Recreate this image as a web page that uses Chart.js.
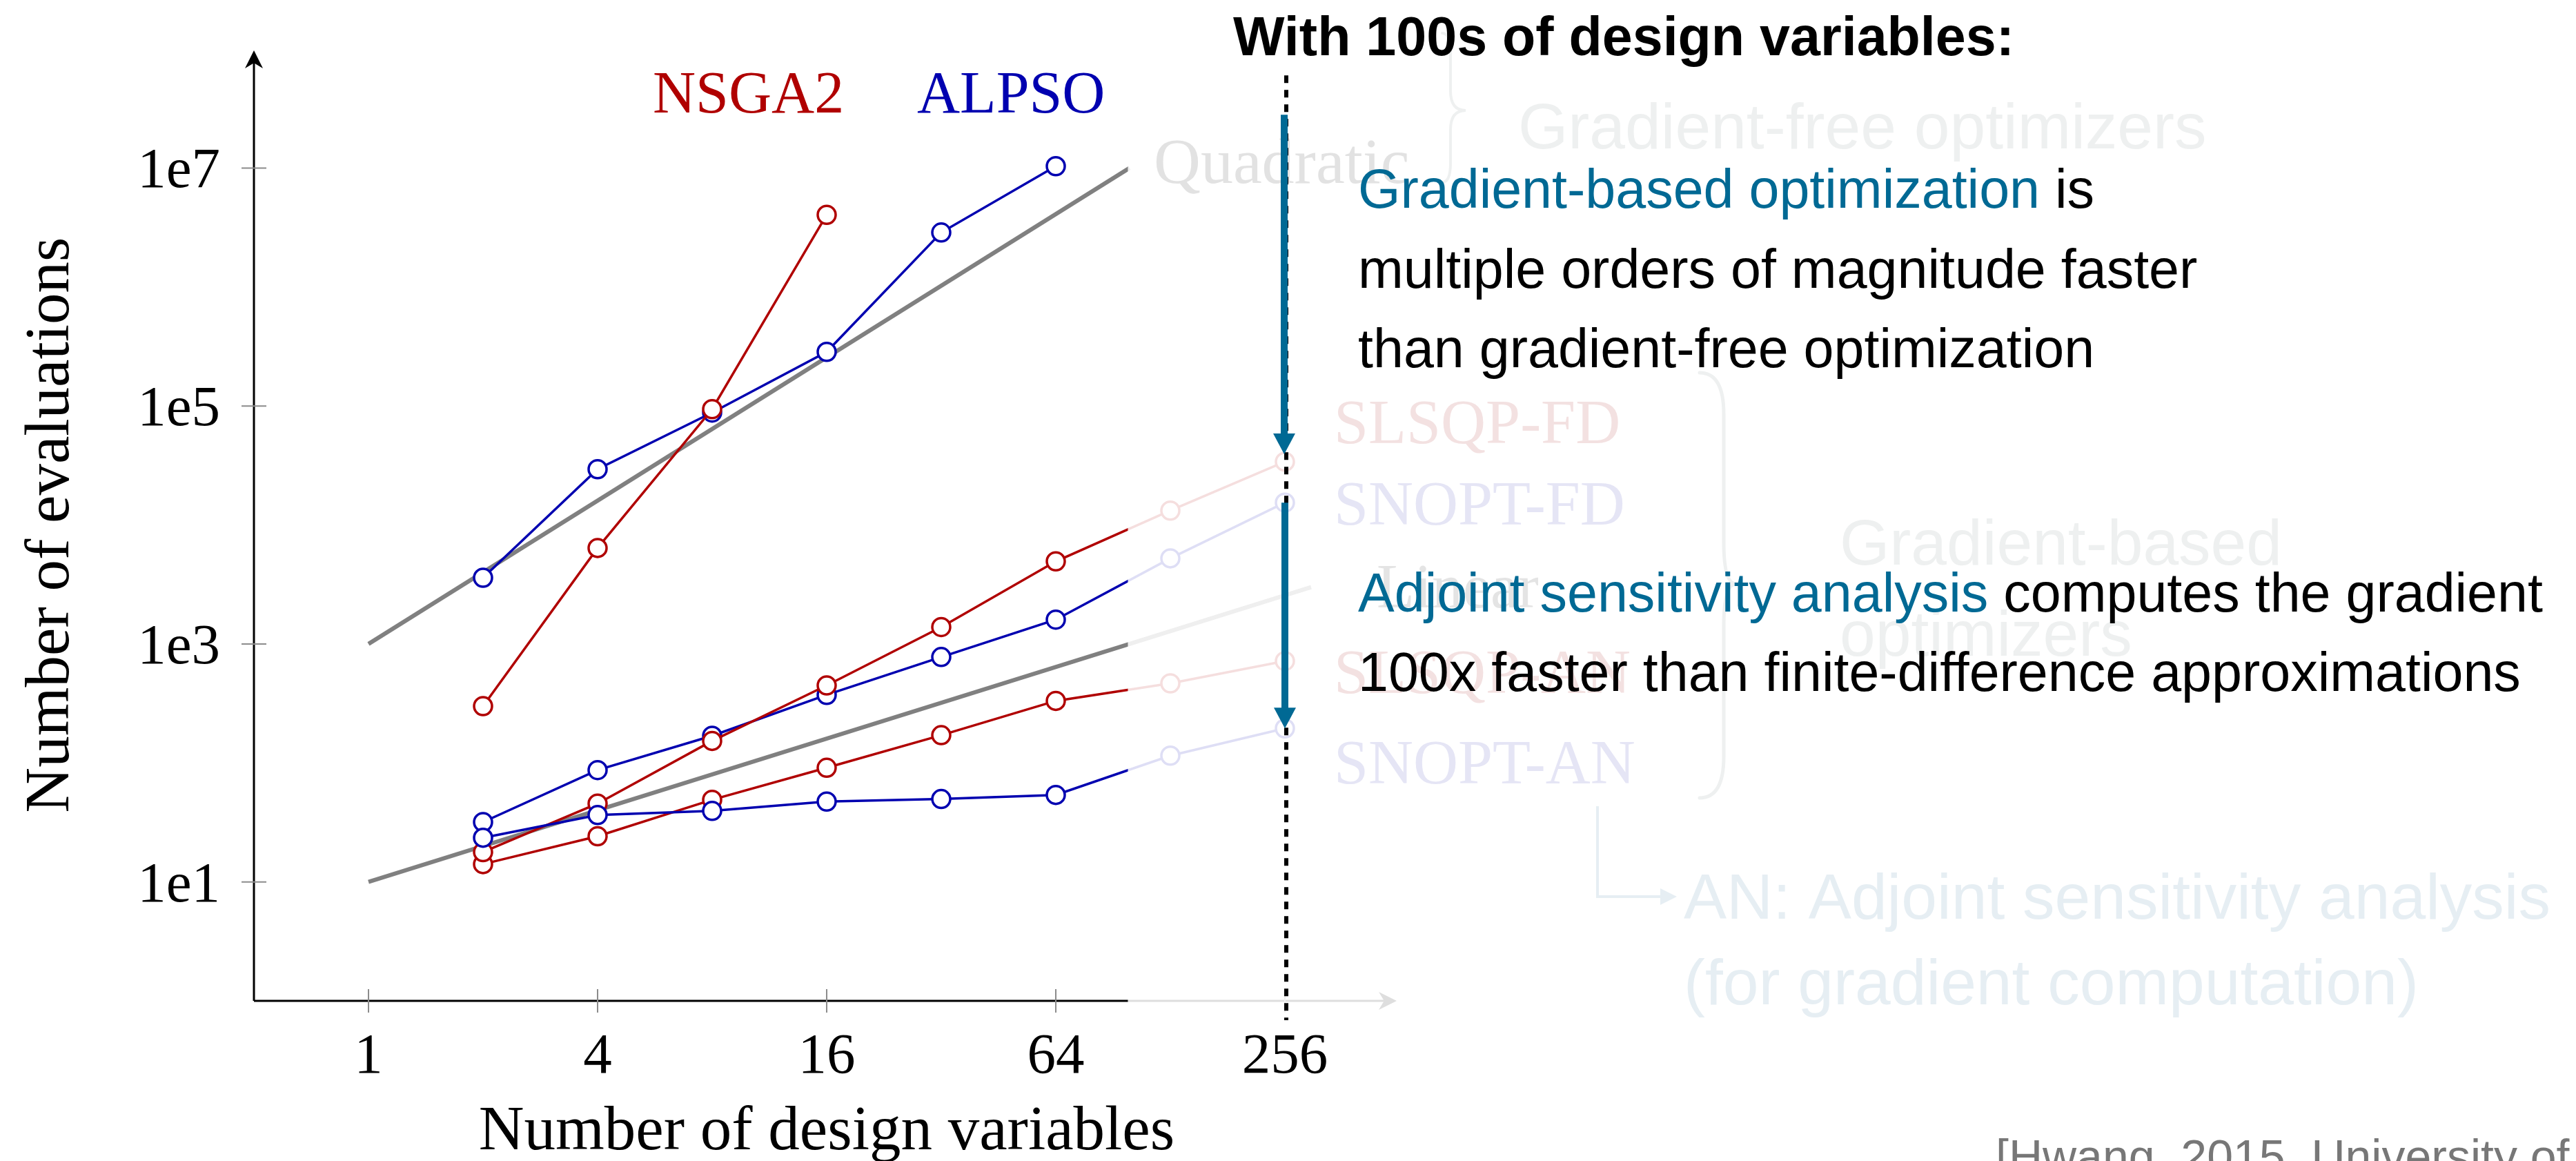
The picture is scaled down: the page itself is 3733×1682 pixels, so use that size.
<!DOCTYPE html>
<html>
<head>
<meta charset="utf-8">
<script src="https://cdn.jsdelivr.net/npm/chart.js@4.4.1/dist/chart.umd.min.js"></script>
<style>
  html, body { margin: 0; padding: 0; background: #ffffff; }
  #wrap { width: 3733px; height: 1682px; position: relative; }
</style>
</head>
<body>
<div id="wrap"><canvas id="chart"></canvas></div>
<script>
// ---- data: number of function evaluations vs. number of design variables ----
const designVars = [2, 4, 8, 16, 32, 64, 128, 256];
const nsga2X = [2, 4, 8, 16];
const nsga2Evals = [300, 6400, 94000, 4040000];
const alpsoX = [2, 4, 8, 16, 32, 64];
const alpsoEvals = [3600, 29400, 88000, 285000, 2870000, 10350000];
const slsqpFD = [17.8, 45.5, 153, 448, 1386, 4940, 13200, 34000];
const snoptFD = [31.8, 87, 169, 373, 776, 1600, 5240, 15400];
const slsqpAN = [14.1, 24.2, 49, 91, 171, 332, 466, 718];
const snoptAN = [23.5, 36.5, 39.5, 47.3, 49.7, 53.8, 115, 195];
// reference scaling lines
const quadX = [1, 100];
const quadEvals = [1e3, 1e7];
const linX = [1, 300];
const linEvals = [10, 3000];
// axis ticks
const xTicks = [1, 4, 16, 64, 256];
const xTickLabels = ['1', '4', '16', '64', '256'];
const yTicks = [1e1, 1e3, 1e5, 1e7];
const yTickLabels = ['1e1', '1e3', '1e5', '1e7'];
// the "hundreds of design variables" region starts here
const fadeFrom = 99;

const RED = '#b00000';
const BLUE = '#0000b0';
const GRAY = '#808080';
const TEAL = '#006994';
const SERIF = '"Liberation Serif", "Times New Roman", serif';
const SANS = '"Liberation Sans", Arial, sans-serif';

function pts(xs, ys) { return xs.map((x, i) => ({ x: x, y: ys[i] })); }

function series(label, xs, ys, color) {
  return {
    label: label,
    data: pts(xs, ys),
    borderColor: color,
    borderWidth: 3.5,
    pointRadius: 13,
    pointBorderWidth: 3.5,
    pointBorderColor: color,
    pointBackgroundColor: '#ffffff',
    tension: 0,
    fill: false
  };
}

function refLine(label, xs, ys) {
  return {
    label: label,
    data: pts(xs, ys),
    borderColor: GRAY,
    borderWidth: 6,
    pointRadius: 0,
    tension: 0,
    fill: false
  };
}

function stealthArrow(ctx, x, y, dir, len, half, color) {
  // dir: 'up' or 'right'
  ctx.save();
  ctx.fillStyle = color;
  ctx.beginPath();
  if (dir === 'up') {
    ctx.moveTo(x, y);
    ctx.lineTo(x - half, y + len);
    ctx.lineTo(x, y + len * 0.7);
    ctx.lineTo(x + half, y + len);
  } else {
    ctx.moveTo(x, y);
    ctx.lineTo(x - len, y - half);
    ctx.lineTo(x - len * 0.7, y);
    ctx.lineTo(x - len, y + half);
  }
  ctx.closePath();
  ctx.fill();
  ctx.restore();
}

function brace(ctx, xEnd, xBody, xTip, yTop, yMid, yBot, r, color, w) {
  ctx.save();
  ctx.strokeStyle = color;
  ctx.lineWidth = w;
  ctx.lineCap = 'round';
  ctx.beginPath();
  ctx.moveTo(xEnd, yTop);
  ctx.quadraticCurveTo(xBody, yTop, xBody, yTop + r);
  ctx.lineTo(xBody, yMid - r);
  ctx.quadraticCurveTo(xBody, yMid, xTip, yMid);
  ctx.quadraticCurveTo(xBody, yMid, xBody, yMid + r);
  ctx.lineTo(xBody, yBot - r);
  ctx.quadraticCurveTo(xBody, yBot, xEnd, yBot);
  ctx.stroke();
  ctx.restore();
}

function tealArrow(ctx, x, y0, yTip) {
  const headLen = 30, headHalf = 16;
  ctx.save();
  ctx.strokeStyle = TEAL;
  ctx.fillStyle = TEAL;
  ctx.lineWidth = 10;
  ctx.beginPath();
  ctx.moveTo(x, y0);
  ctx.lineTo(x, yTip - headLen + 2);
  ctx.stroke();
  ctx.beginPath();
  ctx.moveTo(x, yTip);
  ctx.lineTo(x - headHalf, yTip - headLen);
  ctx.lineTo(x + headHalf, yTip - headLen);
  ctx.closePath();
  ctx.fill();
  ctx.restore();
}

function text(ctx, str, x, y, font, color, align) {
  ctx.font = font;
  ctx.fillStyle = color;
  ctx.textAlign = align || 'left';
  ctx.textBaseline = 'alphabetic';
  ctx.fillText(str, x, y);
  return ctx.measureText(str).width;
}

// segments of differently coloured text on one line
function runs(ctx, parts, x, y, font) {
  let cx = x;
  for (const [str, color] of parts) {
    cx += text(ctx, str, cx, y, font, color, 'left');
  }
}

const annotate = {
  id: 'annotate',
  afterDraw(chart) {
    const ctx = chart.ctx;
    const xs = chart.scales.x, ys = chart.scales.y;
    const area = chart.chartArea;
    const X = v => xs.getPixelForValue(v);
    const Y = v => ys.getPixelForValue(v);
    const x0 = area.left, yB = area.bottom;

    // ---- axes ----
    ctx.save();
    ctx.strokeStyle = '#000000';
    ctx.lineWidth = 3;
    ctx.beginPath();
    ctx.moveTo(x0, yB);
    ctx.lineTo(x0, area.top + 12);
    ctx.moveTo(x0, yB);
    ctx.lineTo(area.right - 10, yB);
    ctx.stroke();
    ctx.restore();
    stealthArrow(ctx, x0, area.top + 2, 'up', 26, 13, '#000000');
    stealthArrow(ctx, area.right - 4, yB, 'right', 26, 13, '#000000');

    // tick marks crossing the axes
    ctx.save();
    ctx.strokeStyle = '#8c8c8c';
    ctx.lineWidth = 2;
    ctx.beginPath();
    for (const t of yTicks) { const py = Y(t); ctx.moveTo(x0 - 18, py); ctx.lineTo(x0 + 18, py); }
    for (const t of xTicks) { const px = X(t); ctx.moveTo(px, yB - 17); ctx.lineTo(px, yB + 17); }
    ctx.stroke();
    ctx.restore();

    // ---- fade everything beyond ~100 design variables ----
    const xf = X(fadeFrom);
    ctx.save();
    ctx.fillStyle = 'rgba(255,255,255,0.87)';
    ctx.fillRect(xf, 0, chart.width - xf, yB + 35);
    ctx.restore();

    // ---- tick labels and axis titles ----
    const tickFont = '83px ' + SERIF;
    yTicks.forEach((t, i) => text(ctx, yTickLabels[i], 319, Y(t) + 28, tickFont, '#000000', 'right'));
    xTicks.forEach((t, i) => text(ctx, xTickLabels[i], X(t), yB + 104, tickFont, '#000000', 'center'));
    text(ctx, 'Number of design variables', (area.left + area.right) / 2, yB + 215, '91px ' + SERIF, '#000000', 'center');
    ctx.save();
    ctx.translate(99, (area.top + area.bottom) / 2);
    ctx.rotate(-Math.PI / 2);
    text(ctx, 'Number of evaluations', 0, 0, '91px ' + SERIF, '#000000', 'center');
    ctx.restore();

    // gradient-free optimizer names
    text(ctx, 'NSGA2', 946, 163, '86px ' + SERIF, RED, 'left');
    text(ctx, 'ALPSO', 1329, 163, '86px ' + SERIF, BLUE, 'left');

    // ---- faded labels in the right-hand region ----
    const lblFont = '90px ' + SERIF;
    text(ctx, 'Quadratic', 1672, 265, '94px ' + SERIF, '#e2e2e2', 'left');
    text(ctx, 'Linear', 1995, 880, lblFont, '#e4e4e4', 'left');
    text(ctx, 'SLSQP-FD', 1933, 642, lblFont, '#f3e1e1', 'left');
    text(ctx, 'SNOPT-FD', 1933, 760, lblFont, '#e5e5f5', 'left');
    text(ctx, 'SLSQP-AN', 1933, 1004, lblFont, '#f3e1e1', 'left');
    text(ctx, 'SNOPT-AN', 1933, 1135, lblFont, '#e5e5f5', 'left');

    const groupGrey = '#eef0f0';
    brace(ctx, 2090, 2102, 2124, 48, 160, 264, 28, groupGrey, 4);
    brace(ctx, 2463, 2498, 2516, 540, 846, 1156, 60, groupGrey, 5);
    text(ctx, 'Gradient-free optimizers', 2200, 215, '93px ' + SANS, groupGrey, 'left');
    text(ctx, 'Gradient-based', 2666, 818, '93px ' + SANS, groupGrey, 'left');
    text(ctx, 'optimizers', 2666, 950, '93px ' + SANS, groupGrey, 'left');

    const anColor = '#e6eef3';
    ctx.save();
    ctx.strokeStyle = anColor;
    ctx.lineWidth = 4;
    ctx.beginPath();
    ctx.moveTo(2315, 1168);
    ctx.lineTo(2315, 1299);
    ctx.lineTo(2415, 1299);
    ctx.stroke();
    ctx.fillStyle = anColor;
    ctx.beginPath();
    ctx.moveTo(2430, 1299);
    ctx.lineTo(2406, 1287);
    ctx.lineTo(2406, 1311);
    ctx.closePath();
    ctx.fill();
    ctx.restore();
    text(ctx, 'AN: Adjoint sensitivity analysis', 2440, 1331, '93px ' + SANS, anColor, 'left');
    text(ctx, '(for gradient computation)', 2440, 1455, '93px ' + SANS, anColor, 'left');

    // ---- marker at 256 design variables ----
    const x256 = X(256);
    ctx.save();
    ctx.strokeStyle = '#000000';
    ctx.lineWidth = 6;
    ctx.setLineDash([11, 10]);
    ctx.beginPath();
    ctx.moveTo(x256 + 2, Y(6e7));
    ctx.lineTo(x256 + 2, yB + 28);
    ctx.stroke();
    ctx.restore();
    tealArrow(ctx, x256 - 1, Y(2.8e7), Y(slsqpFD[7]) - 11);
    tealArrow(ctx, x256, Y(snoptFD[7]), Y(snoptAN[7]));

    // ---- statements ----
    text(ctx, 'With 100s of design variables:', 1787, 80, 'bold 79px ' + SANS, '#000000', 'left');
    const body = '79px ' + SANS;
    runs(ctx, [['Gradient-based optimization', TEAL], [' is', '#000000']], 1968, 301, body);
    text(ctx, 'multiple orders of magnitude faster', 1968, 417, body, '#000000', 'left');
    text(ctx, 'than gradient-free optimization', 1968, 532, body, '#000000', 'left');
    runs(ctx, [['Adjoint sensitivity analysis', TEAL], [' computes the gradient', '#000000']], 1968, 886, body);
    text(ctx, '100x faster than finite-difference approximations', 1968, 1001, body, '#000000', 'left');

    text(ctx, '[Hwang, 2015, University of Michigan]', 2892, 1699, '68px ' + SANS, '#777777', 'left');
  }
};

new Chart(document.getElementById('chart'), {
  type: 'line',
  data: {
    datasets: [
      series('NSGA2', nsga2X, nsga2Evals, RED),
      series('ALPSO', alpsoX, alpsoEvals, BLUE),
      series('SNOPT-AN', designVars, snoptAN, BLUE),
      series('SLSQP-FD', designVars, slsqpFD, RED),
      series('SNOPT-FD', designVars, snoptFD, BLUE),
      series('SLSQP-AN', designVars, slsqpAN, RED),
      refLine('Quadratic', quadX, quadEvals),
      refLine('Linear', linX, linEvals)
    ]
  },
  options: {
    responsive: true,
    maintainAspectRatio: false,
    devicePixelRatio: 1,
    animation: false,
    events: [],
    layout: { padding: { left: 368, right: 1705, top: 71, bottom: 232 } },
    plugins: { legend: { display: false }, tooltip: { enabled: false } },
    scales: {
      x: { type: 'logarithmic', min: 0.5, max: 512, display: false },
      y: { type: 'logarithmic', min: 1, max: 1e8, display: false }
    }
  },
  plugins: [annotate]
});
</script>
</body>
</html>
